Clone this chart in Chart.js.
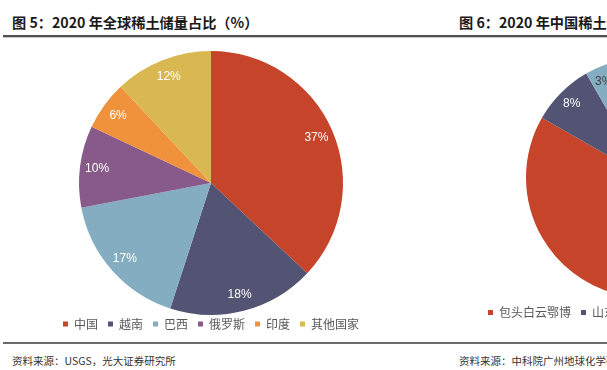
<!DOCTYPE html>
<html>
<head>
<meta charset="utf-8">
<script src="https://cdn.jsdelivr.net/npm/chart.js@4.4.1/dist/chart.umd.min.js"></script>
<style>
  html, body { margin: 0; padding: 0; background: #fff; }
  body { width: 607px; height: 370px; position: relative; overflow: hidden; font-family: "Noto Sans CJK SC", "Noto Sans", sans-serif; }
  .title { position: absolute; top: 12px; font-size: 14.2px; font-weight: 700; color: #1a1a1a; line-height: 20px; white-space: nowrap; }
  .src { position: absolute; top: 353px; font-size: 10.5px; color: #333; line-height: 16px; white-space: nowrap; }
  .rule { position: absolute; left: 3px; width: 604px; }
  .cv { position: absolute; }
</style>
</head>
<body>
<div class="title" style="left:12px">图 5：2020 年全球稀土储量占比（%）</div>
<div class="title" style="left:459px">图 6：2020 年中国稀土储量分布（%）</div>
<div class="rule" style="top:35px;height:2px;background:#505050"></div>
<div class="rule" style="top:37px;height:1px;background:#c8c8c8"></div>
<div class="cv" style="left:0;top:0;width:422px;height:345px"><canvas id="c1"></canvas></div>
<div class="cv" style="left:430px;top:0;width:432px;height:345px"><canvas id="c2"></canvas></div>
<div class="rule" style="top:342px;height:2px;background:#6a6a6a"></div>
<div class="src" style="left:12px">资料来源：USGS，光大证券研究所</div>
<div class="src" style="left:459px">资料来源：中科院广州地球化学研究所</div>
<script>
// Figure 5: world rare-earth reserves share (%)
const categories = ['中国', '越南', '巴西', '俄罗斯', '印度', '其他国家'];
const shares = [37, 18, 17, 10, 6, 12];
const colors5 = ['#C5442A', '#535374', '#84ADC2', '#875A8A', '#F0913C', '#D9B851'];

// Figure 6 (partly visible): China rare-earth reserves by deposit (%)
const regions6 = ['包头白云鄂博', '山东微山', '四川冕宁', '其他'];
const shares6 = [83.3, 8.4, 3.4, 4.9];
const colors6 = ['#C5442A', '#535374', '#84ADC2', '#875A8A'];

const pctLabels = {
  id: 'pctLabels',
  afterDatasetsDraw(chart, args, opts) {
    const ctx = chart.ctx;
    const meta = chart.getDatasetMeta(0);
    const ds = chart.data.datasets[0];
    ctx.save();
    ctx.font = '12px "Liberation Sans", Arial, sans-serif';
    ctx.textAlign = 'center';
    ctx.textBaseline = 'middle';
    meta.data.forEach((arc, i) => {
      const p = arc.getProps(['x', 'y', 'startAngle', 'endAngle', 'outerRadius'], true);
      const mid = (p.startAngle + p.endAngle) / 2;
      const r = p.outerRadius * opts.ratio;
      ctx.fillStyle = (opts.colors && opts.colors[i]) || '#fff';
      ctx.fillText(Math.round(ds.data[i]) + '%', p.x + Math.cos(mid) * r, p.y + Math.sin(mid) * r);
    });
    ctx.restore();
  }
};

function legendOpts(align) {
  return {
    display: true,
    position: 'bottom',
    align: align,
    labels: {
      boxWidth: 5,
      boxHeight: 5,
      padding: 10,
      color: '#595959',
      font: { family: '"Noto Sans CJK SC", "Noto Sans", sans-serif', size: 12 }
    }
  };
}

new Chart(document.getElementById('c1'), {
  type: 'pie',
  data: {
    labels: categories,
    datasets: [{ data: shares, backgroundColor: colors5, borderWidth: 0, radius: 132, clip: false }]
  },
  options: {
    responsive: true,
    maintainAspectRatio: false,
    animation: false,
    layout: { padding: { top: 58, bottom: 5, left: 0, right: 0 } },
    plugins: {
      legend: legendOpts('center'),
      tooltip: { enabled: false },
      pctLabels: { ratio: 0.87, colors: ['#fff', '#fff', '#fff', '#fff', '#fff', '#fff'] }
    }
  },
  plugins: [pctLabels]
});

new Chart(document.getElementById('c2'), {
  type: 'pie',
  data: {
    labels: regions6,
    datasets: [{ data: shares6, backgroundColor: colors6, borderWidth: 0, radius: 120, clip: false }]
  },
  options: {
    responsive: true,
    maintainAspectRatio: false,
    animation: false,
    layout: { padding: { top: 58.5, bottom: 16.5, left: 48, right: 48 } },
    plugins: {
      legend: legendOpts('start'),
      tooltip: { enabled: false },
      pctLabels: { ratio: 0.875, colors: ['#fff', '#fff', '#404040', '#fff'] }
    }
  },
  plugins: [pctLabels]
});
</script>
</body>
</html>
